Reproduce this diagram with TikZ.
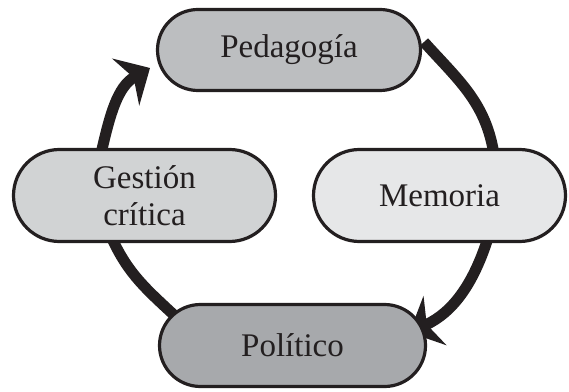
\documentclass[tikz,border=0pt]{standalone}
\usepackage{fontspec}
\setmainfont{Liberation Serif}
\usetikzlibrary{shapes.misc,arrows.meta,backgrounds,calc}
\definecolor{ink}{HTML}{231F20}
\definecolor{pedfill}{HTML}{BCBEC0}
\definecolor{gesfill}{HTML}{D1D3D4}
\definecolor{memfill}{HTML}{E6E7E8}
\definecolor{polfill}{HTML}{A7A9AC}
\begin{document}
\begin{tikzpicture}[x=1pt,y=1pt,
  pill/.style={rounded rectangle, draw=ink, line width=3.2pt, inner sep=0pt,
    font=\fontsize{33}{37}\selectfont, align=center, text=ink},
  flow/.style={draw=ink, line width=11pt},
  head/.style={-{Stealth[length=28pt,width=54pt,inset=9pt]}}]
\useasboundingbox (0,0) rectangle (569,391);
\node[pill, fill=pedfill, minimum width=263pt, minimum height=81pt] (ped) at (289,341) {Pedagogía};
\node[pill, fill=gesfill, minimum width=262pt, minimum height=92pt] (ges) at (144.5,195.5) {Gestión\\crítica};
\node[pill, fill=memfill, minimum width=252pt, minimum height=92pt] (mem) at (439.5,195.5) {Memoria};
\node[pill, fill=polfill, minimum width=266pt, minimum height=82pt] (pol) at (292.5,45.5) {Político};
\begin{pgfonlayer}{background}
\draw[flow] ($(ped.center)+(135,8)$) to[out=-48,in=100] ($(mem.center)+(54,44)$);
\draw[flow,head] ($(mem.center)+(48,-44)$) to[out=-108,in=25] ($(pol.center)+(117,13)$);
\draw[flow] ($(pol.center)+(-118,30)$) to[out=137,in=-65] ($(ges.center)+(-32,-44)$);
\draw[flow,head] ($(ges.center)+(-43,44)$) to[out=77,in=210] ($(ped.center)+(-139,-18)$);
\end{pgfonlayer}
\end{tikzpicture}
\end{document}
